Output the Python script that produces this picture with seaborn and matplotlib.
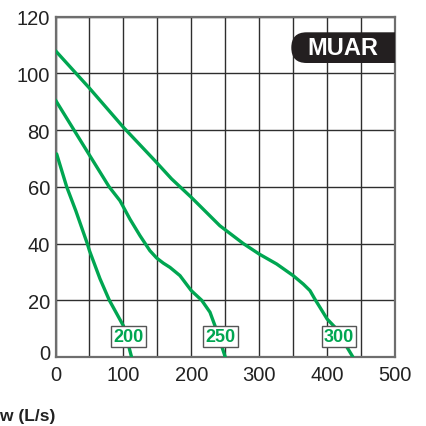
import matplotlib
matplotlib.use("Agg")
import matplotlib.pyplot as plt
from matplotlib.patches import FancyBboxPatch
from matplotlib.transforms import ScaledTranslation
import seaborn as sns
import pandas as pd
import numpy as np

# ---- data ----
flow_200 = [1.7, 16.5, 30, 46.8, 50, 65.5, 79.3, 100, 112]
head_200 = [71.6, 60, 51.5, 40, 37.5, 27.6, 20, 11, 0]

flow_250 = [0, 50, 79, 95, 109.7, 124.4, 139, 149, 158.8, 168.6, 183.3, 200, 215.3, 227.5, 234.9, 250]
head_250 = [90.6, 71.2, 60, 55.1, 48.6, 42.8, 37.5, 34.9, 33.1, 31.6, 28.7, 23.4, 20, 15.8, 11, 0]

flow_300 = [0, 50, 100, 146.5, 171, 200, 242, 276.6, 300, 325.7, 350, 365, 374.8, 382, 389.5, 400, 411.6, 438]
head_300 = [108, 94.8, 81, 69.2, 62.8, 56.3, 46.3, 40, 36.3, 32.8, 28.7, 25.7, 23.4, 20.4, 17.5, 13.4, 10.5, 0]

series_names = ["200", "250", "300"]
x_ticks = [0, 100, 200, 300, 400, 500]
y_ticks = [0, 20, 40, 60, 80, 100, 120]
x_label = "Flow (L/s)"
badge_text = "MUAR"

frames = []
for name, fx, hy in zip(series_names, [flow_200, flow_250, flow_300],
                        [head_200, head_250, head_300]):
    frames.append(pd.DataFrame({"flow": fx, "head": hy, "model": name}))
df = pd.concat(frames, ignore_index=True)

# ---- style ----
sns.set_style("white")
plt.rcParams["font.family"] = ["Liberation Sans", "DejaVu Sans"]

GREEN = "#00a651"
W, H = 426, 427
fig = plt.figure(figsize=(W / 100, H / 100), dpi=100)
ax = fig.add_axes([55.5 / W, 1 - 358 / H, (395 - 55.5) / W, (358 - 17.7) / H])

sns.lineplot(data=df, x="flow", y="head", units="model", estimator=None,
             sort=False, color=GREEN, lw=2.4, ax=ax, zorder=3)

ax.set_xlim(0, 500)
ax.set_ylim(0, 120)
ax.set_xticks(x_ticks)
ax.set_xticks(np.arange(50, 500, 100), minor=True)
ax.set_yticks(y_ticks)
ax.set_xticklabels([str(t) for t in x_ticks], fontsize=14.5, color="#222")
ax.set_yticklabels([str(t) for t in y_ticks], fontsize=14.5, color="#222")
ax.tick_params(axis="both", which="both", length=0)
ax.tick_params(axis="x", pad=6)
ax.tick_params(axis="y", pad=4)
ax.grid(True, which="both", color="#2e2e2e", lw=1.0, zorder=1)
ax.set_axisbelow(True)
for sp in ax.spines.values():
    sp.set_color("#6e6e6e")
    sp.set_linewidth(1.6)
ax.set_xlabel("")
ax.set_ylabel("")
if ax.get_legend():
    ax.get_legend().remove()

# lift the y "0" label slightly, as in the reference
ylab0 = ax.get_yticklabels()[0]
ylab0.set_transform(ylab0.get_transform() + ScaledTranslation(0, 5 / 100, fig.dpi_scale_trans))

# series labels
label_pos = {"200": (107.8, 7.2), "250": (243, 7.2), "300": (417.5, 7.2)}
for name in series_names:
    lx, ly = label_pos[name]
    ax.text(lx, ly, name, color=GREEN, fontsize=13, fontweight="bold",
            ha="center", va="center", zorder=5,
            bbox=dict(boxstyle="square,pad=0.12", fc="white", ec="#555555", lw=1.0))

# badge
bx0 = (291.3 - 55.5) / (395 - 55.5)
by0 = (358 - 64) / (358 - 17.7)
bh = (64 - 33.3) / (358 - 17.7)
badge = FancyBboxPatch((bx0, by0), 1.2 - bx0, bh,
                       boxstyle="round,pad=0,rounding_size=0.045",
                       transform=ax.transAxes, fc="#231f20", ec="none",
                       zorder=6, clip_on=True)
ax.add_patch(badge)
ax.text((343 - 55.5) / (395 - 55.5), (358 - 48.7) / (358 - 17.7), badge_text,
        transform=ax.transAxes, color="white", fontsize=17, fontweight="bold",
        ha="center", va="center", zorder=7)

fig.text(55 / W, 1 - 416.7 / H, x_label, ha="right", va="center",
         fontsize=12.5, fontweight="bold", color="#222")

fig.savefig("out.png", dpi=100)
